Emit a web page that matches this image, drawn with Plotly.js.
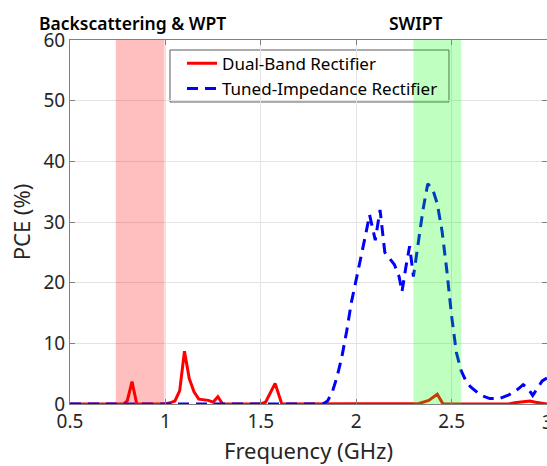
<!DOCTYPE html>
<html>
<head>
<meta charset="utf-8">
<script src="https://cdn.plot.ly/plotly-3.0.1.min.js"></script>
<style>
  html, body { margin: 0; padding: 0; background: #ffffff; }
  #chart { width: 547px; height: 466px; }
</style>
</head>
<body>
<div id="chart"></div>
<script>
// Power conversion efficiency vs. frequency for the two rectifier designs
const freqDual = [0.5, 0.7, 0.78, 0.8, 0.825, 0.85, 0.9, 1.0, 1.025, 1.05, 1.075, 1.1, 1.125, 1.15, 1.175,
                  1.2, 1.225, 1.25, 1.275, 1.3, 1.4, 1.5, 1.525, 1.575, 1.61, 1.7, 2.0, 2.3, 2.33, 2.38,
                  2.425, 2.455, 2.5, 2.8, 2.83, 2.88, 2.91, 2.94, 2.97, 3.0];
const pceDual = [0, 0, 0, 0.5, 3.7, 0, 0, 0, 0.2, 0.5, 2.2, 8.7, 4.2, 2.0, 0.8,
                 0.7, 0.6, 0.3, 1.2, 0, 0, 0, 0.3, 3.4, 0, 0, 0, 0, 0.1, 0.6,
                 1.6, 0, 0, 0, 0.2, 0.4, 0.5, 0.3, 0.1, 0];

const freqTuned = [0.5, 0.6, 0.7, 0.8, 0.9, 1.0, 1.1, 1.2, 1.3, 1.4, 1.5, 1.6, 1.7, 1.8, 1.825,
                   1.85, 1.875, 1.9, 1.925, 1.95, 1.975, 2.0, 2.025, 2.05, 2.07, 2.1, 2.125, 2.14,
                   2.15, 2.175, 2.2, 2.225, 2.24, 2.26, 2.28, 2.3, 2.325, 2.35, 2.375, 2.4, 2.425,
                   2.45, 2.475, 2.5, 2.525, 2.55, 2.575, 2.6, 2.65, 2.7, 2.75, 2.8, 2.85, 2.875,
                   2.9, 2.925, 2.95, 2.975, 3.0];
const pceTuned = [0, 0, 0, 0, 0, 0, 0, 0, 0, 0, 0, 0, 0, 0, 0,
                  0.5, 2.0, 4.5, 7.8, 12.0, 16.8, 20.5, 24.0, 28.0, 31.2, 27.0, 32.0, 28.0,
                  25.0, 24.0, 23.0, 21.0, 18.5, 22.5, 26.0, 21.0, 26.5, 32.0, 36.3, 35.5, 33.0,
                  28.5, 22.0, 14.5, 8.5, 5.5, 3.8, 2.8, 1.5, 0.9, 0.9, 1.5, 2.5, 3.2,
                  2.6, 1.4, 2.6, 3.8, 4.3];

const seriesNames = ['Dual-Band Rectifier', 'Tuned-Impedance Rectifier'];
const bandBackscatter = [0.74, 0.995];
const bandSwipt = [2.3, 2.55];
const bandLabels = ['Backscattering & WPT', 'SWIPT'];
const xTicks = [0.5, 1, 1.5, 2, 2.5, 3];
const yTicks = [0, 10, 20, 30, 40, 50, 60];

const FONT = 'Noto Sans, Open Sans, DejaVu Sans, sans-serif';
const TEXT = '#262626';
const AXIS = '#808080';
const GRID = '#e3e3e3';

const traces = [
  {
    x: freqDual, y: pceDual, name: seriesNames[0], type: 'scatter', mode: 'lines',
    line: { color: '#ff0000', width: 3 }
  },
  {
    x: freqTuned, y: pceTuned, name: seriesNames[1], type: 'scatter', mode: 'lines',
    line: { color: '#0000ff', width: 3, dash: '11px,7px' }
  }
];

// the last x tick sits on the right edge of the plot; plotly drops it, so it is drawn as a label
const edgeTick = xTicks[xTicks.length - 1];

const layout = {
  width: 547, height: 466,
  margin: { l: 70, r: 0, t: 40, b: 62 },
  paper_bgcolor: '#ffffff', plot_bgcolor: '#ffffff',
  font: { family: FONT, color: TEXT },
  showlegend: true,
  legend: {
    x: 0.2348, y: 0.984, xanchor: 'left', yanchor: 'top',
    bgcolor: 'rgba(0,0,0,0)', borderwidth: 0,
    font: { family: FONT, size: 17, color: '#000000' },
    traceorder: 'normal'
  },
  xaxis: {
    range: [0.5, 3], tickvals: xTicks, ticktext: xTicks.map(String),
    showgrid: true, gridcolor: GRID, gridwidth: 1, zeroline: false,
    showline: true, linecolor: AXIS, linewidth: 1, mirror: 'ticks',
    ticks: 'inside', ticklen: 5, tickcolor: AXIS,
    tickfont: { family: FONT, size: 19, color: TEXT },
    title: { text: 'Frequency (GHz)', font: { family: FONT, size: 22, color: TEXT }, standoff: 10 }
  },
  yaxis: {
    range: [0, 60], tickvals: yTicks, ticktext: yTicks.map(String),
    showgrid: true, gridcolor: GRID, gridwidth: 1, zeroline: false,
    showline: true, linecolor: AXIS, linewidth: 1, mirror: 'ticks',
    ticks: 'inside', ticklen: 5, tickcolor: AXIS,
    tickfont: { family: FONT, size: 19, color: TEXT },
    title: { text: 'PCE (%)', font: { family: FONT, size: 22, color: TEXT }, standoff: 6 }
  },
  shapes: [
    // legend panel
    {
      type: 'rect', xref: 'paper', yref: 'paper', layer: 'between',
      x0: 0.2096, x1: 0.7945, y0: 0.8297, y1: 0.9725,
      fillcolor: '#ffffff', line: { color: '#5a5a5a', width: 1 }
    },
    // operating bands
    {
      type: 'rect', xref: 'x', yref: 'paper', layer: 'above',
      x0: bandBackscatter[0], x1: bandBackscatter[1], y0: 0, y1: 1,
      fillcolor: '#ff0000', opacity: 0.25, line: { width: 0 }
    },
    {
      type: 'rect', xref: 'x', yref: 'paper', layer: 'above',
      x0: bandSwipt[0], x1: bandSwipt[1], y0: 0, y1: 1,
      fillcolor: '#00ff00', opacity: 0.25, line: { width: 0 }
    }
  ],
  annotations: [
    {
      text: bandLabels[0], xref: 'x', yref: 'paper', x: 0.827, y: 1,
      xanchor: 'center', yanchor: 'bottom', yshift: 3, showarrow: false,
      font: { family: FONT, size: 17.5, weight: 600, color: '#000000' }
    },
    {
      text: bandLabels[1], xref: 'x', yref: 'paper', x: 2.315, y: 1,
      xanchor: 'center', yanchor: 'bottom', yshift: 3, showarrow: false,
      font: { family: FONT, size: 17.5, weight: 600, color: '#000000' }
    },
    {
      text: String(edgeTick), xref: 'x', yref: 'paper', x: edgeTick, y: 0,
      xanchor: 'center', yanchor: 'top', yshift: -3, showarrow: false,
      font: { family: FONT, size: 19, color: TEXT }
    }
  ]
};

Plotly.newPlot('chart', traces, layout, { displayModeBar: false, staticPlot: true });
</script>
</body>
</html>
